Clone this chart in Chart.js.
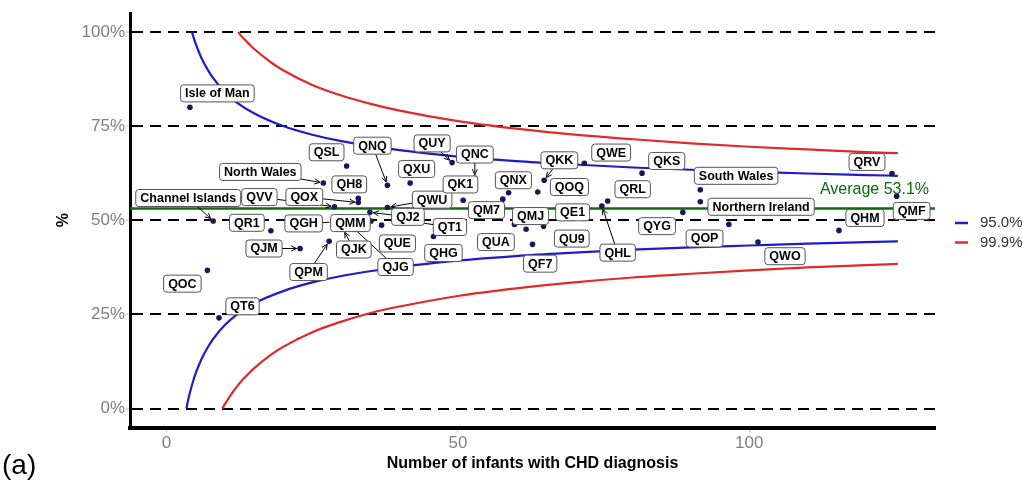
<!DOCTYPE html>
<html><head><meta charset="utf-8">
<script src="https://cdn.jsdelivr.net/npm/chart.js@4"></script>
<style>html,body{margin:0;padding:0;background:#fff;overflow:hidden}</style>
</head><body><canvas id="c" width="1022" height="481"></canvas>
<script>
// ---------- data ----------
const units = ['Isle of Man','Channel Islands','North Wales','South Wales','Northern Ireland',
 'QOC','QT6','QR1','QJM','QPM','QVV','QGH','QSL','QJK','QH8','QOX','QJ2','QMM','QJG','QUE',
 'QNQ','QWU','QT1','QXU','QHG','QUY','QK1','QNC','QM7','QNX','QUA','QMJ','QF7','QOQ','QU9',
 'QKK','QE1','QWE','QHL','QRL','QKS','QYG','QOP','QWO','QHM','QRV','QMF'];
const infants = [4.0, 8.0, 26.9, 91.6, 91.6,
 7.0, 9.0, 17.9, 22.9, 27.9, 28.8, 28.55, 30.9, 30.3, 32.9, 32.9, 34.9, 35.1, 32.3, 36.9,
 37.9, 37.9, 39.7, 41.8, 45.8, 49.0, 50.9, 52.9, 57.7, 58.7, 59.7, 61.7, 62.8, 63.7, 64.7,
 64.8, 68.4, 71.7, 74.7, 75.7, 81.6, 88.6, 96.5, 101.5, 115.4, 124.5, 125.3];
const percent = [80.0, 49.8, 59.9, 58.1, 54.9,
 36.7, 24.1, 47.2, 42.5, 44.4, 53.6, 49.5, 64.4, 47.6, 55.8, 54.7, 52.1, 49.8, 47.6, 48.7,
 59.3, 53.4, 50.2, 59.9, 45.7, 65.3, 55.3, 61.2, 55.6, 57.3, 48.9, 47.6, 43.6, 57.5, 48.4,
 60.6, 51.7, 65.1, 53.8, 55.1, 62.5, 52.1, 48.9, 44.2, 47.3, 62.4, 56.4];
const averagePct = 53.1;
const limitLabels = ['95.0%', '99.9%'];

const n95Upper   = [4.35,4.7,5,6,7,8,10,12,15,20,25,30,40,50,60,70,80,90,100,110,120,125.5];
const pct95Upper = [100.0,98.2,96.8,93.0,90.1,87.7,84.0,81.3,78.4,75.0,72.7,71.0,68.6,66.9,65.7,64.8,64.0,63.4,62.9,62.4,62.0,61.8];
const n95Lower   = [3.4,3.5,3.7,4,4.5,5,6,7,8,10,12,15,20,25,30,40,50,60,70,80,90,100,110,120,125.5];
const pct95Lower = [0.0,0.8,2.3,4.2,7.0,9.4,13.2,16.1,18.5,22.2,24.9,27.9,31.2,33.5,35.2,37.6,39.3,40.5,41.4,42.2,42.8,43.3,43.8,44.2,44.4];
const n999Upper   = [12.3,12.5,13,14,15,18,20,25,30,35,40,50,60,70,80,90,100,110,120,125.5];
const pct999Upper = [100.0,99.5,98.6,97.0,95.5,91.8,89.8,85.9,83.1,80.9,79.1,76.3,74.3,72.7,71.5,70.4,69.5,68.8,68.1,67.8];
const n999Lower   = [9.6,9.8,10,10.5,11,12,13,14,15,18,20,25,30,35,40,50,60,70,80,90,100,110,120,125.5];
const pct999Lower = [0.0,0.7,1.2,2.4,3.6,5.7,7.6,9.2,10.7,14.4,16.4,20.3,23.1,25.4,27.1,29.9,31.9,33.5,34.8,35.8,36.7,37.5,38.1,38.4];

const yTickValues = [0, 25, 50, 75, 100];
const xTickValues = [0, 50, 100];
const X_MIN = -6.28, X_MAX = 131.88, Y_MIN = -5, Y_MAX = 105;

// ---------- label layout (pixel offsets of label centre from its point) ----------
const labelOffsets = {
 'Isle of Man':[27.5,-13.8],'QSL':[-20,-13.7],'North Wales':[-63,-11],'QNQ':[-15,-39.5],'QXU':[6.5,-14],
 'QH8':[-9,-14],'QOX':[-54,-5.6],'QVV':[-75,-9.6],'QWU':[44.7,-7.8],'QJ2':[38,4.5],'QT1':[52,7.5],
 'Channel Islands':[-25,-23],'QR1':[-24,-8],'QJM':[-36,0],'QPM':[-20.6,30.7],'QOC':[-25,13.3],
 'QT6':[23.5,-11.5],'QHG':[10,16.5],'QUY':[-20,-19.2],'QNC':[0,-23.5],'QK1':[-2.7,-15.8],
 'QNX':[4.8,-12.5],'QM7':[-16.3,11],'QKK':[15.2,-20],'QOQ':[31.7,-5],'QMJ':[4.5,-13.2],
 'QUA':[-18.5,17.7],'QU9':[28.2,12.3],'QF7':[7.7,19.3],'QE1':[7.5,-1.5],'QWE':[26.8,-10.8],
 'QKS':[24.7,-12.2],'QRL':[25,-11.8],'QHL':[15.8,46.7],'South Wales':[35.8,-13.9],
 'Northern Ireland':[60.8,5],'QYG':[-25.8,13.8],'QOP':[-24.3,14.1],'QWO':[27,14.1],'QHM':[26,-12.5],
 'QRV':[-25,-11.6],'QMF':[15,14.8],'QGH':[-29.3,1.3],'QMM':[-20.7,2.1],'QJK':[10.7,20.2],
 'QJG':[40.8,37.7],'QUE':[15.8,18.3]
};
const arrowUnits = ['North Wales','QNQ','QOX','QVV','QWU','QJ2','Channel Islands','QJM','QPM','QUY','QNC','QKK','QHL','QJK'];
const segmentUnits = ['QT1','QGH','QJG'];

const BLUE = '#1c1cc8', RED = '#e02a2a', GREEN = '#0d6b0d', NAVY = '#17175c';
const FONT = '"Liberation Sans", Arial, sans-serif';

function pts(xs, ys) { return xs.map((v, i) => ({x: v, y: ys[i]})); }
function curve(xs, ys, color) {
  return {data: pts(xs, ys), showLine: true, borderColor: color, borderWidth: 2.2,
          pointRadius: 0, cubicInterpolationMode: 'monotone', fill: false};
}

const annotations = {
  id: 'annotations',
  afterDatasetsDraw(chart) {
    const {ctx, chartArea, scales: {x, y}} = chart;
    ctx.save();
    // average text
    const avgY = y.getPixelForValue(averagePct);
    ctx.font = '16px ' + FONT; ctx.fillStyle = GREEN;
    ctx.textAlign = 'right'; ctx.textBaseline = 'middle';
    ctx.fillText('Average ' + averagePct.toFixed(1) + '%', chartArea.right - 6, avgY - 19);

    // labels
    ctx.font = 'bold 12.5px ' + FONT;
    const boxes = units.map((name, i) => {
      const px = x.getPixelForValue(infants[i]), py = y.getPixelForValue(percent[i]);
      const off = labelOffsets[name] || [0, -14];
      return {name, px, py, cx: px + off[0], cy: py + off[1], w: ctx.measureText(name).width + 9, h: 17};
    });
    ctx.strokeStyle = '#000'; ctx.lineWidth = 1;
    boxes.forEach(b => {
      const arrow = arrowUnits.includes(b.name);
      if (!arrow && !segmentUnits.includes(b.name)) return;
      const vx = b.px - b.cx, vy = b.py - b.cy, len = Math.hypot(vx, vy);
      const t = Math.min(vx ? (b.w / 2) / Math.abs(vx) : Infinity, vy ? (b.h / 2) / Math.abs(vy) : Infinity);
      if (t >= 1) return;
      const sx = b.cx + vx * t, sy = b.cy + vy * t;
      const ux = vx / len, uy = vy / len;
      const ex = b.px - ux * 3.5, ey = b.py - uy * 3.5;
      ctx.beginPath(); ctx.moveTo(sx, sy); ctx.lineTo(ex, ey); ctx.stroke();
      if (arrow) {
        const a = Math.atan2(uy, ux), L = 6, sp = 0.45;
        ctx.beginPath();
        ctx.moveTo(ex - L * Math.cos(a - sp), ey - L * Math.sin(a - sp));
        ctx.lineTo(ex, ey);
        ctx.lineTo(ex - L * Math.cos(a + sp), ey - L * Math.sin(a + sp));
        ctx.stroke();
      }
    });
    boxes.forEach(b => {
      const lx = b.cx - b.w / 2, ty = b.cy - b.h / 2;
      ctx.beginPath(); ctx.roundRect(lx, ty, b.w, b.h, 3);
      ctx.fillStyle = '#fff'; ctx.fill();
      ctx.strokeStyle = '#555'; ctx.lineWidth = 1; ctx.stroke();
      ctx.fillStyle = '#000'; ctx.textAlign = 'center'; ctx.textBaseline = 'middle';
      ctx.fillText(b.name, b.cx, b.cy + 0.5);
    });

    // legend
    const legendColors = [BLUE, RED];
    ctx.font = '15px ' + FONT; ctx.textAlign = 'left'; ctx.textBaseline = 'middle';
    limitLabels.forEach((lab, i) => {
      const ly = 223 + i * 19.5;
      ctx.strokeStyle = legendColors[i]; ctx.lineWidth = 2.5;
      ctx.beginPath(); ctx.moveTo(955, ly); ctx.lineTo(968, ly); ctx.stroke();
      ctx.fillStyle = '#333'; ctx.fillText(lab, 980, ly);
    });

    // axis titles
    ctx.fillStyle = '#000';
    ctx.font = 'bold 16px ' + FONT; ctx.textAlign = 'center'; ctx.textBaseline = 'middle';
    ctx.fillText('Number of infants with CHD diagnosis', (chartArea.left + chartArea.right) / 2, 464);
    ctx.save(); ctx.translate(64, (chartArea.top + chartArea.bottom) / 2 + 0); ctx.rotate(-Math.PI / 2);
    ctx.fillText('%', 0, 0); ctx.restore();
    ctx.font = '28px ' + FONT; ctx.textAlign = 'left'; ctx.textBaseline = 'alphabetic';
    ctx.fillText('(a)', 2, 474);
    ctx.restore();
  }
};

new Chart(document.getElementById('c'), {
  type: 'scatter',
  data: {datasets: [
    {data: pts(infants, percent), pointRadius: 2.8, pointBackgroundColor: NAVY, pointBorderWidth: 0, showLine: false},
    {data: [{x: X_MIN, y: averagePct}, {x: X_MAX, y: averagePct}], showLine: true, borderColor: GREEN, borderWidth: 2.5, pointRadius: 0},
    curve(n95Upper, pct95Upper, BLUE),
    curve(n95Lower, pct95Lower, BLUE),
    curve(n999Upper, pct999Upper, RED),
    curve(n999Lower, pct999Lower, RED)
  ]},
  options: {
    responsive: false, animation: false, devicePixelRatio: 1,
    layout: {padding: {left: 0, right: 87, top: 13, bottom: 0}},
    plugins: {legend: {display: false}, tooltip: {enabled: false}},
    scales: {
      x: {type: 'linear', min: X_MIN, max: X_MAX,
          afterBuildTicks: s => { s.ticks = xTickValues.map(v => ({value: v})); },
          afterFit: s => { s.height = 53.5; },
          grid: {drawOnChartArea: false, drawTicks: true, tickLength: 4, tickColor: '#b0b0b0', tickWidth: 1},
          border: {display: true, color: '#000', width: 4},
          ticks: {color: '#7f7f7f', font: {family: FONT, size: 17}, padding: 2, maxRotation: 0}},
      y: {type: 'linear', min: Y_MIN, max: Y_MAX,
          afterBuildTicks: s => { s.ticks = yTickValues.map(v => ({value: v})); },
          afterFit: s => { s.width = 130; },
          grid: {color: '#000', lineWidth: 2, drawTicks: true, tickLength: 4, tickColor: '#b0b0b0', tickWidth: 1},
          border: {display: true, color: '#000', width: 3, dash: [11, 7]},
          ticks: {color: '#7f7f7f', font: {family: FONT, size: 17}, padding: 1, callback: v => v + '%'}}
    }
  },
  plugins: [annotations]
});
</script></body></html>
